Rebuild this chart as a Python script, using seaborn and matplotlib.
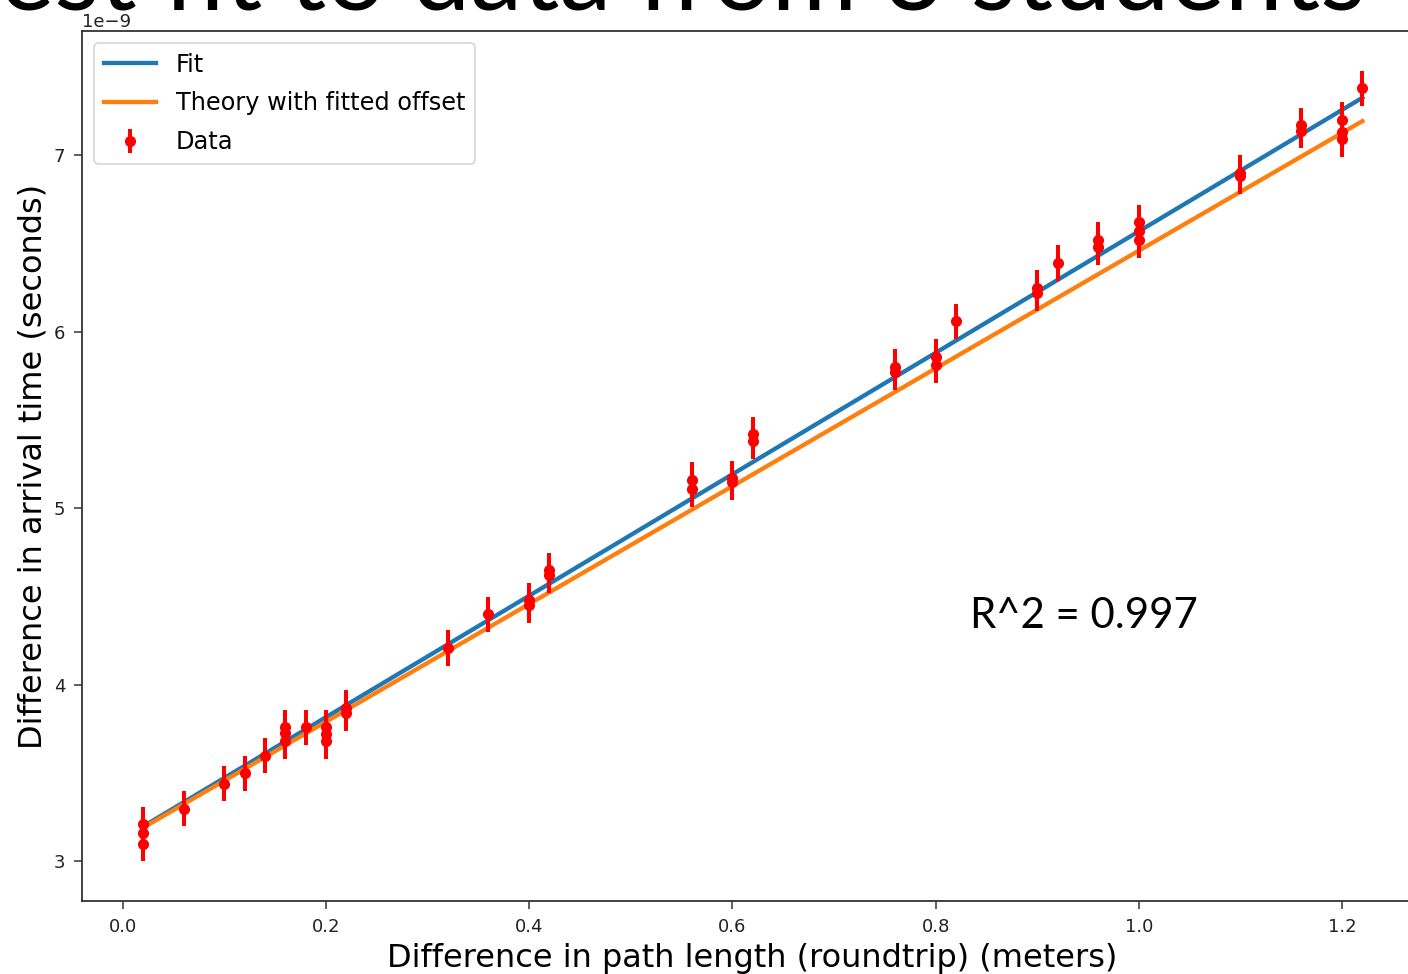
import numpy as np
import matplotlib
matplotlib.use("Agg")
import matplotlib.pyplot as plt
import seaborn as sns
from matplotlib import font_manager

# ---------------- data ----------------
path_diff_m = [0.02, 0.02, 0.02, 0.06, 0.10, 0.12, 0.14,
               0.16, 0.16, 0.16, 0.18, 0.20, 0.20, 0.20, 0.22, 0.22,
               0.32, 0.36, 0.40, 0.40, 0.42, 0.42,
               0.56, 0.56, 0.60, 0.60, 0.62, 0.62,
               0.76, 0.76, 0.80, 0.80, 0.82, 0.90, 0.90, 0.92,
               0.96, 0.96, 1.00, 1.00, 1.00, 1.10, 1.10,
               1.16, 1.16, 1.20, 1.20, 1.20, 1.22]
arrival_ns = [3.21, 3.16, 3.10, 3.30, 3.44, 3.50, 3.60,
              3.76, 3.73, 3.68, 3.76, 3.76, 3.72, 3.68, 3.87, 3.84,
              4.21, 4.40, 4.48, 4.45, 4.65, 4.62,
              5.16, 5.11, 5.17, 5.15, 5.42, 5.38,
              5.80, 5.77, 5.86, 5.81, 6.06, 6.25, 6.22, 6.39,
              6.52, 6.48, 6.62, 6.57, 6.52, 6.90, 6.88,
              7.17, 7.14, 7.20, 7.13, 7.09, 7.38]
arrival_err_ns = 0.10

fit_slope_ns_per_m = 3.44
fit_intercept_ns = 3.129
theory_slope_ns_per_m = 3.3356   # 1/c
theory_offset_ns = 3.124

title_text = "Best fit to data from 3 students"
r2_text = "R^2 = 0.997"
x_label = "Difference in path length (roundtrip) (meters)"
y_label = "Difference in arrival time (seconds)"
legend_fit = "Fit"
legend_theory = "Theory with fitted offset"
legend_data = "Data"

# ---------------- fonts ----------------
names = {f.name for f in font_manager.fontManager.ttflist}
slide_family = "Lato" if "Lato" in names else "DejaVu Sans"
plt.rcParams["font.family"] = ["DejaVu Sans"]

# ---------------- figure ----------------
fig = plt.figure(figsize=(14.08, 9.74), dpi=100)
fig.patch.set_facecolor("white")
ax = fig.add_axes([0.0582, 0.0749, 0.9527, 0.8933])

x = np.array(path_diff_m)
y = np.array(arrival_ns) * 1e-9
x_line = np.unique(x)

sns.lineplot(x=x_line, y=(fit_intercept_ns + fit_slope_ns_per_m * x_line) * 1e-9,
             ax=ax, color="#1f77b4", linewidth=3.1, label=legend_fit,
             estimator=None, sort=True)
sns.lineplot(x=x_line, y=(theory_offset_ns + theory_slope_ns_per_m * x_line) * 1e-9,
             ax=ax, color="#ff7f0e", linewidth=3.1, label=legend_theory,
             estimator=None, sort=True)
ax.errorbar(x, y, yerr=arrival_err_ns * 1e-9, fmt="o", color="red",
            markersize=7, elinewidth=2.9, label=legend_data)

ax.set_xlabel(x_label, fontsize=23, labelpad=5)
ax.set_ylabel(y_label, fontsize=23, labelpad=4)

ax.tick_params(axis="both", length=6, width=1.1, color="#333333",
               labelsize=13, pad=6, labelcolor="#222222")
off = ax.yaxis.get_offset_text()
off.set_fontsize(13)

for sp in ax.spines.values():
    sp.set_linewidth(1.3)
    sp.set_color("#333333")

leg = ax.legend(loc="upper left", fontsize=17.3, frameon=True,
                handlelength=2.2, borderaxespad=0.5, labelspacing=0.62,
                handletextpad=0.8, borderpad=0.4)
leg.get_frame().set_edgecolor("#cccccc")
leg.get_frame().set_linewidth(1.2)

# slide elements
fig.text(1365 / 1408, 1 - 10 / 974, title_text, ha="right", va="baseline",
         fontsize=75, family=slide_family, color="black")
fig.text(970 / 1408, 1 - 628 / 974, r2_text, ha="left", va="baseline",
         fontsize=30.2, family=slide_family, color="black")

fig.savefig("out.png", dpi=100, facecolor="white")
